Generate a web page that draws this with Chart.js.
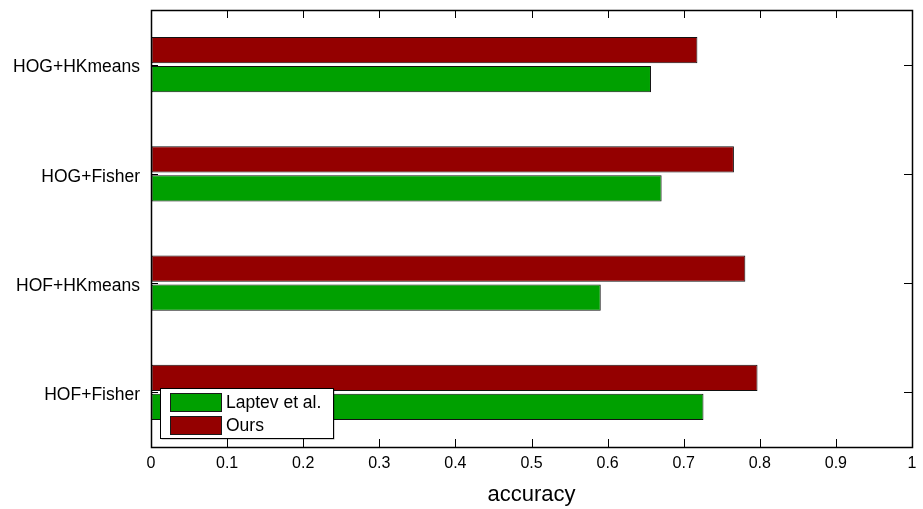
<!DOCTYPE html>
<html>
<head>
<meta charset="utf-8">
<script src="https://cdn.jsdelivr.net/npm/chart.js@4/dist/chart.umd.min.js"></script>
<style>
  html, body { margin: 0; padding: 0; background: #fff; }
  #wrap { width: 923px; height: 509px; position: relative; }
</style>
</head>
<body>
<div id="wrap"><canvas id="accChart"></canvas></div>
<script>
/* accuracy per feature setup, top to bottom */

var categories = ['HOG+HKmeans', 'HOG+Fisher', 'HOF+HKmeans', 'HOF+Fisher'];
var oursVals   = [0.718, 0.766, 0.781, 0.797];
var laptevVals = [0.657, 0.671, 0.591, 0.726];
var seriesNames = ['Laptev et al.', 'Ours'];
var xTickLabels = ['0', '0.1', '0.2', '0.3', '0.4', '0.5', '0.6', '0.7', '0.8', '0.9', '1'];

var FONT = '"Liberation Sans", Arial, Helvetica, sans-serif';
var RED   = '#940000';
var GREEN = '#00a000';

/* box + inward tick marks, matlab style */
var boxPlugin = {
  id: 'boxPlugin',
  afterDatasetsDraw: function(chart) {
    var ctx = chart.ctx, a = chart.chartArea;
    var xs = chart.scales.x, ys = chart.scales.y;
    var tl = 8;
    ctx.save();
    ctx.strokeStyle = '#000';
    ctx.lineWidth = 1;
    ctx.beginPath();
    xs.ticks.forEach(function(t, i) {
      if (i === 0 || i === xs.ticks.length - 1) return;
      var px = Math.round(xs.getPixelForTick(i)) + 0.5;
      ctx.moveTo(px, a.bottom); ctx.lineTo(px, a.bottom - tl);
      ctx.moveTo(px, a.top);    ctx.lineTo(px, a.top + tl);
    });
    ys.ticks.forEach(function(t, i) {
      var py = Math.round(ys.getPixelForTick(i)) + 0.5;
      ctx.moveTo(a.left, py);  ctx.lineTo(a.left + 7, py);
      ctx.moveTo(a.right, py); ctx.lineTo(a.right - tl, py);
    });
    ctx.stroke();
    ctx.lineWidth = 1.5;
    ctx.strokeRect(Math.round(a.left) + 0.5, Math.round(a.top) + 0.5,
                   Math.round(a.right - a.left), Math.round(a.bottom - a.top));
    ctx.restore();
  },
  afterDraw: function(chart) {
    // legend box sits inside the plot, bottom left
    var ctx = chart.ctx, a = chart.chartArea;
    var bx = a.left + 9, by = a.bottom - 59, bw = 173, bh = 50;
    var order = [1, 0]; // Laptev first, Ours second (dataset 0 is Ours)
    ctx.save();
    ctx.fillStyle = 'rgba(0,0,0,0.35)';
    ctx.fillRect(bx + 1.5, by + 1.5, bw, bh);
    ctx.fillStyle = '#fff';
    ctx.fillRect(bx, by, bw, bh);
    ctx.strokeStyle = '#000';
    ctx.lineWidth = 1;
    ctx.strokeRect(bx + 0.5, by + 0.5, bw, bh);
    ctx.font = '17.5px ' + FONT;
    ctx.textBaseline = 'middle';
    ctx.textAlign = 'left';
    order.forEach(function(di, k) {
      var ds = chart.data.datasets[di];
      var sy = by + 5 + k * 23;
      ctx.fillStyle = ds.backgroundColor;
      ctx.fillRect(bx + 10, sy, 51, 18);
      ctx.strokeStyle = '#1a1a1a';
      ctx.strokeRect(bx + 10.5, sy + 0.5, 51, 18);
      ctx.fillStyle = '#000';
      ctx.fillText(ds.label, bx + 66, sy + 10);
    });
    ctx.restore();
  }
};

var ctxEl = document.getElementById('accChart');
var accChart = new Chart(ctxEl, {
  type: 'bar',
  data: {
    labels: categories,
    datasets: [
      {
        label: seriesNames[1],
        data: oursVals,
        backgroundColor: RED,
        borderColor: '#111',
        borderWidth: 1,
        borderSkipped: false
      },
      {
        label: seriesNames[0],
        data: laptevVals,
        backgroundColor: GREEN,
        borderColor: '#111',
        borderWidth: 1,
        borderSkipped: false
      }
    ]
  },
  options: {
    indexAxis: 'y',
    responsive: true,
    maintainAspectRatio: false,
    animation: false,
    categoryPercentage: 0.53,
    barPercentage: 0.9,
    layout: { padding: { top: 10, right: 11, left: 0, bottom: 0 } },
    plugins: {
      legend: { display: false },
      tooltip: { enabled: false }
    },
    scales: {
      x: {
        min: 0, max: 1,
        grid: { drawOnChartArea: false, drawTicks: false },
        border: { display: false },
        ticks: {
          stepSize: 0.1,
          padding: 7,
          color: '#000',
          font: { family: FONT, size: 16 },
          callback: function(v, i) { return xTickLabels[i]; }
        },
        title: {
          display: true, text: 'accuracy', color: '#000',
          font: { family: FONT, size: 22 },
          padding: { top: 0, bottom: 1 }
        },
        afterFit: function(s) { s.height = 62; s.paddingLeft = 0; s.paddingRight = 0; }
      },
      y: {
        grid: { drawOnChartArea: false, drawTicks: false },
        border: { display: false },
        ticks: {
          padding: 11,
          labelOffset: 3,
          color: '#000',
          font: { family: FONT, size: 17.5 }
        },
        afterFit: function(s) { s.width = 151; s.paddingTop = 0; s.paddingBottom = 0; }
      }
    }
  },
  plugins: [boxPlugin]
});
</script>
</body>
</html>
